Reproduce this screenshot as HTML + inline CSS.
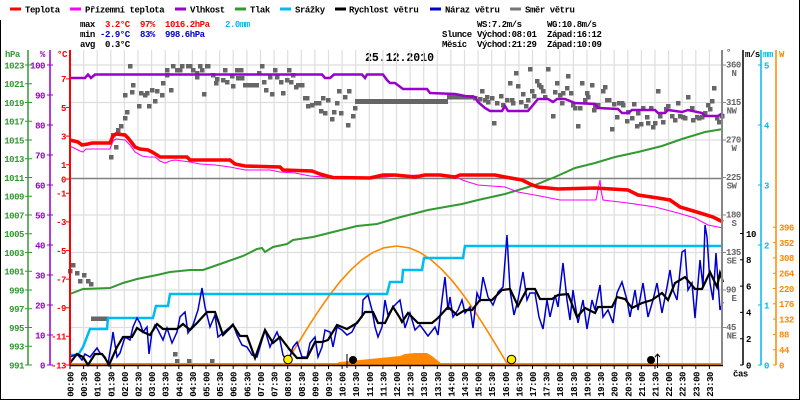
<!DOCTYPE html>
<html><head><meta charset="utf-8"><style>
html,body{margin:0;padding:0;background:#fff}
svg{display:block}
text{font-family:"Liberation Mono","DejaVu Sans Mono",monospace;font-size:9px;letter-spacing:-0.45px;font-weight:bold}
.t{font-size:11.5px;font-weight:bold;letter-spacing:0}
</style></head><body>
<svg width="800" height="400" viewBox="0 0 800 400" xmlns="http://www.w3.org/2000/svg">
<rect width="800" height="400" fill="#fff"/>
<path d="M0.5,20 V399.5 H799.5 V0" fill="none" stroke="#000" stroke-width="1"/>

<g stroke-width="3">
<line x1="10" y1="9" x2="21" y2="9" stroke="#ff0000"/>
<line x1="70" y1="9" x2="81" y2="9" stroke="#ff00ff"/>
<line x1="175" y1="9" x2="186" y2="9" stroke="#9900cc"/>
<line x1="235" y1="9" x2="246" y2="9" stroke="#339933"/>
<line x1="280" y1="9" x2="291" y2="9" stroke="#00bbee"/>
<line x1="335" y1="9" x2="346" y2="9" stroke="#000"/>
<line x1="430" y1="9" x2="441" y2="9" stroke="#0000cc"/>
<line x1="510" y1="9" x2="521" y2="9" stroke="#777"/>
</g>
<g fill="#000">
<text x="25" y="12.5">Teplota</text>
<text x="85" y="12.5">Přízemní teplota</text>
<text x="190" y="12.5">Vlhkost</text>
<text x="250" y="12.5">Tlak</text>
<text x="295" y="12.5">Srážky</text>
<text x="349" y="12.5">Rychlost větru</text>
<text x="445" y="12.5">Náraz větru</text>
<text x="525" y="12.5">Směr větru</text>
</g>

<text x="80" y="27">max</text>
<text x="105" y="27" fill="#ff0000">3.2°C</text>
<text x="140" y="27" fill="#ff0000">97%</text>
<text x="165" y="27" fill="#ff0000">1016.2hPa</text>
<text x="225" y="27" fill="#00bbee">2.0mm</text>
<text x="80" y="37">min</text>
<text x="100" y="37" fill="#0000cc">-2.9°C</text>
<text x="140" y="37" fill="#0000cc">83%</text>
<text x="165" y="37" fill="#0000cc">998.6hPa</text>
<text x="80" y="47">avg</text>
<text x="105" y="47">0.3°C</text>

<text x="477" y="27">WS:7.2m/s</text>
<text x="547" y="27">WG:10.8m/s</text>
<text x="442" y="37">Slunce</text>
<text x="477" y="37">Východ:08:01</text>
<text x="547" y="37">Západ:16:12</text>
<text x="442" y="47">Měsíc</text>
<text x="477" y="47">Východ:21:29</text>
<text x="547" y="47">Západ:10:09</text>

<text class="t" x="365" y="61">25.12.2010</text>

<g stroke="#dedede" stroke-width="1.2">
<line x1="83.6" y1="50" x2="83.6" y2="365"/><line x1="97.2" y1="50" x2="97.2" y2="365"/><line x1="110.8" y1="50" x2="110.8" y2="365"/><line x1="124.4" y1="50" x2="124.4" y2="365"/><line x1="138" y1="50" x2="138" y2="365"/><line x1="151.6" y1="50" x2="151.6" y2="365"/><line x1="165.2" y1="50" x2="165.2" y2="365"/><line x1="178.8" y1="50" x2="178.8" y2="365"/><line x1="192.4" y1="50" x2="192.4" y2="365"/><line x1="206" y1="50" x2="206" y2="365"/><line x1="219.6" y1="50" x2="219.6" y2="365"/><line x1="233.2" y1="50" x2="233.2" y2="365"/><line x1="246.9" y1="50" x2="246.9" y2="365"/><line x1="260.5" y1="50" x2="260.5" y2="365"/><line x1="274.1" y1="50" x2="274.1" y2="365"/><line x1="287.7" y1="50" x2="287.7" y2="365"/><line x1="301.3" y1="50" x2="301.3" y2="365"/><line x1="314.9" y1="50" x2="314.9" y2="365"/><line x1="328.5" y1="50" x2="328.5" y2="365"/><line x1="342.1" y1="50" x2="342.1" y2="365"/><line x1="355.7" y1="50" x2="355.7" y2="365"/><line x1="369.3" y1="50" x2="369.3" y2="365"/><line x1="382.9" y1="50" x2="382.9" y2="365"/><line x1="396.5" y1="50" x2="396.5" y2="365"/><line x1="410.1" y1="50" x2="410.1" y2="365"/><line x1="423.7" y1="50" x2="423.7" y2="365"/><line x1="437.3" y1="50" x2="437.3" y2="365"/><line x1="450.9" y1="50" x2="450.9" y2="365"/><line x1="464.5" y1="50" x2="464.5" y2="365"/><line x1="478.1" y1="50" x2="478.1" y2="365"/><line x1="491.7" y1="50" x2="491.7" y2="365"/><line x1="505.3" y1="50" x2="505.3" y2="365"/><line x1="518.9" y1="50" x2="518.9" y2="365"/><line x1="532.5" y1="50" x2="532.5" y2="365"/><line x1="546.1" y1="50" x2="546.1" y2="365"/><line x1="559.7" y1="50" x2="559.7" y2="365"/><line x1="573.4" y1="50" x2="573.4" y2="365"/><line x1="587" y1="50" x2="587" y2="365"/><line x1="600.6" y1="50" x2="600.6" y2="365"/><line x1="614.2" y1="50" x2="614.2" y2="365"/><line x1="627.8" y1="50" x2="627.8" y2="365"/><line x1="641.4" y1="50" x2="641.4" y2="365"/><line x1="655" y1="50" x2="655" y2="365"/><line x1="668.6" y1="50" x2="668.6" y2="365"/><line x1="682.2" y1="50" x2="682.2" y2="365"/><line x1="695.8" y1="50" x2="695.8" y2="365"/><line x1="709.4" y1="50" x2="709.4" y2="365"/>
<line x1="70" y1="65" x2="723" y2="65"/><line x1="70" y1="102.5" x2="723" y2="102.5"/><line x1="70" y1="140" x2="723" y2="140"/><line x1="70" y1="215" x2="723" y2="215"/><line x1="70" y1="252.5" x2="723" y2="252.5"/><line x1="70" y1="290" x2="723" y2="290"/><line x1="70" y1="327.5" x2="723" y2="327.5"/>
</g>
<line x1="70" y1="178.5" x2="723" y2="178.5" stroke="#808080" stroke-width="1.5"/>

<polygon fill="#ff8800" points="330,365 340,362 350,361 360,360 370,359 380,358 390,357 400,356 405,354 415,353 427,353 432,356 437,360 442,364 442,365"/>

<g fill="#666">
<rect x="68" y="269" width="4.5" height="4.5"/><rect x="71" y="263" width="4.5" height="4.5"/><rect x="75" y="271" width="4.5" height="4.5"/><rect x="78" y="279" width="4.5" height="4.5"/><rect x="82" y="273" width="4.5" height="4.5"/><rect x="86" y="279" width="4.5" height="4.5"/><rect x="89" y="282" width="4.5" height="4.5"/>
<rect x="91" y="316.5" width="18" height="4.5"/>
<rect x="109" y="155" width="4.5" height="4.5"/><rect x="114" y="145" width="4.5" height="4.5"/><rect x="111" y="133" width="4.5" height="4.5"/><rect x="116" y="128" width="4.5" height="4.5"/><rect x="119" y="124" width="4.5" height="4.5"/><rect x="123" y="116" width="4.5" height="4.5"/><rect x="125" y="110" width="4.5" height="4.5"/><rect x="123" y="93" width="4.5" height="4.5"/><rect x="130" y="90" width="4.5" height="4.5"/><rect x="131" y="83" width="4.5" height="4.5"/><rect x="128" y="64" width="4.5" height="4.5"/><rect x="137" y="104" width="4.5" height="4.5"/><rect x="139" y="91" width="4.5" height="4.5"/><rect x="143" y="93" width="4.5" height="4.5"/><rect x="145" y="91" width="4.5" height="4.5"/><rect x="147" y="104" width="4.5" height="4.5"/><rect x="150" y="88" width="4.5" height="4.5"/><rect x="153" y="99" width="4.5" height="4.5"/><rect x="155" y="89" width="4.5" height="4.5"/><rect x="160" y="93" width="4.5" height="4.5"/><rect x="161" y="81" width="4.5" height="4.5"/><rect x="165" y="68" width="4.5" height="4.5"/><rect x="165" y="73" width="4.5" height="4.5"/><rect x="169" y="88" width="4.5" height="4.5"/><rect x="171" y="64" width="4.5" height="4.5"/><rect x="175" y="68" width="4.5" height="4.5"/><rect x="178" y="68" width="4.5" height="4.5"/><rect x="180" y="64" width="4.5" height="4.5"/><rect x="186" y="64" width="4.5" height="4.5"/><rect x="188" y="64" width="4.5" height="4.5"/><rect x="191" y="68" width="4.5" height="4.5"/><rect x="195" y="71" width="4.5" height="4.5"/><rect x="195" y="75" width="4.5" height="4.5"/><rect x="198" y="64" width="4.5" height="4.5"/><rect x="200" y="68" width="4.5" height="4.5"/><rect x="202" y="92" width="4.5" height="4.5"/><rect x="205" y="64" width="4.5" height="4.5"/><rect x="206" y="64" width="4.5" height="4.5"/><rect x="211" y="73" width="4.5" height="4.5"/><rect x="214" y="81" width="4.5" height="4.5"/><rect x="215" y="77" width="4.5" height="4.5"/><rect x="221" y="78" width="4.5" height="4.5"/><rect x="223" y="68" width="4.5" height="4.5"/><rect x="225" y="80" width="4.5" height="4.5"/><rect x="230" y="74" width="4.5" height="4.5"/><rect x="231" y="84" width="4.5" height="4.5"/><rect x="235" y="68" width="4.5" height="4.5"/><rect x="236" y="76" width="4.5" height="4.5"/><rect x="239" y="68" width="4.5" height="4.5"/><rect x="240" y="76" width="4.5" height="4.5"/>
<rect x="243" y="83" width="16" height="4.5"/>
<rect x="257" y="71" width="4.5" height="4.5"/><rect x="260" y="64" width="4.5" height="4.5"/><rect x="262" y="80" width="4.5" height="4.5"/><rect x="264" y="88" width="4.5" height="4.5"/><rect x="268" y="75" width="4.5" height="4.5"/><rect x="270" y="92" width="4.5" height="4.5"/><rect x="273" y="68" width="4.5" height="4.5"/><rect x="275" y="75" width="4.5" height="4.5"/><rect x="279" y="80" width="4.5" height="4.5"/><rect x="281" y="91" width="4.5" height="4.5"/><rect x="285" y="78" width="4.5" height="4.5"/><rect x="287" y="68" width="4.5" height="4.5"/><rect x="289" y="80" width="4.5" height="4.5"/><rect x="291" y="73" width="4.5" height="4.5"/><rect x="294" y="85" width="4.5" height="4.5"/><rect x="296" y="83" width="4.5" height="4.5"/><rect x="300" y="83" width="4.5" height="4.5"/><rect x="303" y="96" width="4.5" height="4.5"/><rect x="305" y="96" width="4.5" height="4.5"/><rect x="306" y="104" width="4.5" height="4.5"/><rect x="310" y="103" width="4.5" height="4.5"/><rect x="314" y="101" width="4.5" height="4.5"/><rect x="317" y="101" width="4.5" height="4.5"/><rect x="319" y="109" width="4.5" height="4.5"/><rect x="321" y="96" width="4.5" height="4.5"/><rect x="323" y="111" width="4.5" height="4.5"/><rect x="326" y="98" width="4.5" height="4.5"/><rect x="330" y="117" width="4.5" height="4.5"/><rect x="332" y="110" width="4.5" height="4.5"/><rect x="335" y="101" width="4.5" height="4.5"/><rect x="337" y="89" width="4.5" height="4.5"/><rect x="339" y="111" width="4.5" height="4.5"/><rect x="343" y="95" width="4.5" height="4.5"/><rect x="346" y="123" width="4.5" height="4.5"/><rect x="347" y="89" width="4.5" height="4.5"/><rect x="351" y="114" width="4.5" height="4.5"/><rect x="353" y="106" width="4.5" height="4.5"/>
<rect x="355" y="99" width="93" height="5"/>
<rect x="447" y="95" width="27" height="4.5"/>
<rect x="473" y="96" width="4.5" height="4.5"/><rect x="480" y="89" width="4.5" height="4.5"/><rect x="478" y="97" width="4.5" height="4.5"/><rect x="483" y="98" width="4.5" height="4.5"/><rect x="485" y="95" width="4.5" height="4.5"/><rect x="486" y="100" width="4.5" height="4.5"/><rect x="490" y="96" width="4.5" height="4.5"/><rect x="492" y="121" width="4.5" height="4.5"/><rect x="495" y="101" width="4.5" height="4.5"/><rect x="499" y="94" width="4.5" height="4.5"/><rect x="501" y="103" width="4.5" height="4.5"/><rect x="505" y="98" width="4.5" height="4.5"/><rect x="508" y="81" width="4.5" height="4.5"/><rect x="510" y="98" width="4.5" height="4.5"/><rect x="511" y="101" width="4.5" height="4.5"/><rect x="514" y="71" width="4.5" height="4.5"/><rect x="516" y="84" width="4.5" height="4.5"/><rect x="519" y="100" width="4.5" height="4.5"/><rect x="521" y="92" width="4.5" height="4.5"/><rect x="524" y="104" width="4.5" height="4.5"/><rect x="526" y="98" width="4.5" height="4.5"/><rect x="528" y="67" width="4.5" height="4.5"/><rect x="530" y="89" width="4.5" height="4.5"/><rect x="532" y="94" width="4.5" height="4.5"/><rect x="535" y="79" width="4.5" height="4.5"/><rect x="537" y="83" width="4.5" height="4.5"/><rect x="539" y="85" width="4.5" height="4.5"/><rect x="541" y="89" width="4.5" height="4.5"/><rect x="543" y="95" width="4.5" height="4.5"/><rect x="546" y="67" width="4.5" height="4.5"/><rect x="551" y="114" width="4.5" height="4.5"/><rect x="553" y="90" width="4.5" height="4.5"/><rect x="555" y="81" width="4.5" height="4.5"/><rect x="558" y="93" width="4.5" height="4.5"/><rect x="560" y="101" width="4.5" height="4.5"/><rect x="561" y="91" width="4.5" height="4.5"/><rect x="565" y="86" width="4.5" height="4.5"/><rect x="566" y="74" width="4.5" height="4.5"/><rect x="569" y="91" width="4.5" height="4.5"/><rect x="571" y="103" width="4.5" height="4.5"/><rect x="573" y="106" width="4.5" height="4.5"/><rect x="576" y="124" width="4.5" height="4.5"/><rect x="578" y="106" width="4.5" height="4.5"/><rect x="580" y="81" width="4.5" height="4.5"/><rect x="583" y="98" width="4.5" height="4.5"/><rect x="585" y="91" width="4.5" height="4.5"/><rect x="586" y="95" width="4.5" height="4.5"/><rect x="590" y="83" width="4.5" height="4.5"/><rect x="592" y="108" width="4.5" height="4.5"/><rect x="593" y="105" width="4.5" height="4.5"/><rect x="596" y="103" width="4.5" height="4.5"/><rect x="601" y="89" width="4.5" height="4.5"/><rect x="603" y="85" width="4.5" height="4.5"/><rect x="605" y="98" width="4.5" height="4.5"/><rect x="607" y="98" width="4.5" height="4.5"/><rect x="610" y="127" width="4.5" height="4.5"/><rect x="612" y="102" width="4.5" height="4.5"/><rect x="615" y="115" width="4.5" height="4.5"/><rect x="617" y="101" width="4.5" height="4.5"/><rect x="620" y="101" width="4.5" height="4.5"/><rect x="621" y="103" width="4.5" height="4.5"/><rect x="625" y="119" width="4.5" height="4.5"/><rect x="626" y="110" width="4.5" height="4.5"/><rect x="630" y="116" width="4.5" height="4.5"/><rect x="632" y="102" width="4.5" height="4.5"/><rect x="635" y="124" width="4.5" height="4.5"/><rect x="636" y="111" width="4.5" height="4.5"/><rect x="639" y="122" width="4.5" height="4.5"/><rect x="641" y="106" width="4.5" height="4.5"/><rect x="645" y="115" width="4.5" height="4.5"/><rect x="646" y="121" width="4.5" height="4.5"/><rect x="649" y="106" width="4.5" height="4.5"/><rect x="651" y="125" width="4.5" height="4.5"/><rect x="653" y="121" width="4.5" height="4.5"/><rect x="656" y="89" width="4.5" height="4.5"/><rect x="658" y="114" width="4.5" height="4.5"/><rect x="661" y="120" width="4.5" height="4.5"/><rect x="664" y="107" width="4.5" height="4.5"/><rect x="666" y="104" width="4.5" height="4.5"/><rect x="670" y="114" width="4.5" height="4.5"/><rect x="673" y="118" width="4.5" height="4.5"/><rect x="676" y="101" width="4.5" height="4.5"/><rect x="678" y="114" width="4.5" height="4.5"/><rect x="681" y="115" width="4.5" height="4.5"/><rect x="683" y="116" width="4.5" height="4.5"/><rect x="686" y="95" width="4.5" height="4.5"/><rect x="690" y="106" width="4.5" height="4.5"/><rect x="691" y="118" width="4.5" height="4.5"/><rect x="695" y="115" width="4.5" height="4.5"/><rect x="697" y="116" width="4.5" height="4.5"/><rect x="700" y="115" width="4.5" height="4.5"/><rect x="703" y="111" width="4.5" height="4.5"/><rect x="706" y="103" width="4.5" height="4.5"/><rect x="708" y="107" width="4.5" height="4.5"/><rect x="710" y="99" width="4.5" height="4.5"/><rect x="712" y="86" width="4.5" height="4.5"/><rect x="715" y="116" width="4.5" height="4.5"/><rect x="717" y="120" width="4.5" height="4.5"/><rect x="720" y="114" width="4.5" height="4.5"/>
<rect x="173" y="352" width="4.5" height="4.5"/><rect x="175" y="359" width="4.5" height="4.5"/><rect x="187" y="359" width="4.5" height="4.5"/><rect x="210" y="359" width="4.5" height="4.5"/>
</g>

<polyline fill="none" stroke="#ff8800" stroke-width="1.6" points="285,365 296,346.7 307,328.7 318,311.7 329,295.9 340,281.7 351,269.7 362,259.8 373,252.4 384,247.8 396.5,246 409,247.8 420,252.4 431,259.8 442,269.7 453,281.7 464,295.9 475,311.7 486,328.7 497,346.7 508,365"/>
<line x1="70" y1="364" x2="723" y2="364" stroke="#ff8800" stroke-width="2"/>

<polyline fill="none" stroke="#339933" stroke-width="2" points="70,294 83,289 110,288 123,283 137,279 157,275 170,272 190,270 203,270 223,263 243,256 257,249 262,248 265,252 273,247 287,244 293,240 313,237 337,231 357,226 377,224 397,218 428,210 462,204 478,200 505,194 535,185 555,177 575,168 595,163 615,157 638,152 662,146 682,139 705,132 723,129"/>

<polyline fill="none" stroke="#00bbee" stroke-width="2.5" points="70,355 78,355 83,347 90,329 107,329 108,318 153,318 156,306 168,306 170,294 387,294 390,282 402,282 403,270 422,270 424,258 463,258 465,246 723,246"/>

<polyline fill="none" stroke="#9900cc" stroke-width="2.5" points="70,78 85,78 88,74.5 91,78 95,74.5 322,74.5 325,78 330,78 334,74.5 362,74.5 365,78 367,74.5 383,74.5 387,80 390,83 395,83 403,89 427,89 430,93 455,94 465,96 475,97 478,102 485,108 490,111 502,111 505,106 508,111 528,111 538,99 548,99 553,102 557,99 565,99 575,103 595,104 598,108 618,109 622,113 628,113 632,110 655,110 658,113 665,113 668,110 682,112 688,110 702,113 705,116 718,116 723,113"/>

<polyline fill="none" stroke="#0000cc" stroke-width="1.5" points="70,357 77,354 82,360 85,354 90,357 97,348 100,353 105,357 108,364 112,340 113,332 117,357 120,353 125,337 130,340 133,327 137,318 140,323 143,332 147,327 149,354 152,332 155,325 158,330 163,340 167,328 172,343 177,332 180,317 185,312 188,333 193,325 198,310 202,288 205,307 210,327 215,315 218,337 223,333 230,327 233,324 237,335 242,345 247,347 252,355 257,357 262,340 265,330 270,347 273,340 277,332 280,340 283,355 288,362 293,347 297,342 302,357 307,357 310,343 315,337 318,357 322,347 325,330 330,332 333,347 337,327 342,330 347,335 352,332 357,322 362,317 363,300 368,295 372,310 375,327 378,337 382,327 385,300 388,315 393,307 400,300 405,328 410,313 415,330 420,325 428,336 435,327 438,335 442,300 445,277 448,310 450,297 453,317 458,310 462,300 465,313 470,307 473,328 477,293 480,300 483,277 488,297 493,305 498,292 503,287 507,235 510,290 514,315 518,300 523,272 527,300 530,293 535,293 539,317 543,329 547,300 550,317 555,295 558,307 563,263 567,300 570,320 573,290 578,323 583,300 587,329 592,300 595,310 600,285 603,317 608,310 613,323 617,293 622,282 627,300 630,317 635,290 638,310 643,283 648,317 653,300 657,283 662,313 667,287 670,270 673,290 677,300 682,252 685,250 688,290 692,283 695,318 700,260 703,287 705,225 707,237 710,283 713,300 716,253 720,310 723,302"/>

<polyline fill="none" stroke="#000" stroke-width="2.2" points="70,363 77,354 83,357 88,365 95,354 102,354 105,358 109,365 117,347 123,337 132,337 137,328 143,332 150,335 157,324 163,329 177,329 183,324 190,330 197,323 207,312 215,312 223,335 233,325 240,336 247,336 255,358 265,330 273,343 280,337 290,350 297,358 307,358 315,342 322,342 328,340 337,325 347,329 357,323 365,312 373,312 378,323 385,323 393,307 400,318 402,322 408,313 418,323 432,323 438,318 448,307 457,315 465,310 472,310 480,300 492,300 502,290 510,289 518,306 527,289 535,289 540,299 552,299 558,295 568,294 577,317 585,308 595,313 598,307 612,307 617,297 625,299 632,308 642,303 652,300 662,293 668,300 675,283 685,277 695,289 702,289 710,272 717,287 720,273 723,282"/>

<polyline fill="none" stroke="#ff00ff" stroke-width="1.1" points="70,146 80,151 83,152 86,149 110,149 113,141 116,139 125,140 130,145 135,152 142,156 148,157 155,157 160,161 165,163 170,161 175,160 190,162 200,164 215,165 230,167 240,169 245,170 270,170 280,172 295,173 310,176 330,177.5 370,178 385,177 395,176 420,175 440,176 455,177 465,181 478,185 505,187 518,192 540,196 555,199 560,200 596,200 598,190 600,180 601,190 603,200 628,203 655,207 678,213 695,218 708,225 723,228"/>

<polyline fill="none" stroke="#ff0000" stroke-width="3.6" points="70,140 78,142 82,145 88,144 92,143 110,143 113,136 116,134 125,135 128,138 132,143 135,147 140,149 148,150 152,152 157,155 160,157 187,157 190,160 230,160 235,164 245,166 280,167 283,170 312,171 320,174 327,176 333,177.5 370,178 383,175 395,175 415,177 425,175 440,175 455,177 460,175 495,175 505,177 522,180 530,184 538,187 558,189 595,188 628,190 638,195 658,198 670,200 680,207 700,213 713,217 723,222"/>

<line x1="347" y1="354" x2="347" y2="368" stroke="#000" stroke-width="1"/>
<circle cx="353" cy="360" r="4" fill="#000"/>
<line x1="657.5" y1="354" x2="657.5" y2="368" stroke="#000" stroke-width="1"/>
<path d="M655,357 L657.5,354 L660,357" fill="none" stroke="#000" stroke-width="1"/>
<circle cx="651" cy="360" r="4" fill="#000"/>
<circle cx="288" cy="359.5" r="4.3" fill="#ffee00" stroke="#000" stroke-width="1"/>
<circle cx="511.5" cy="359.5" r="4.3" fill="#ffee00" stroke="#000" stroke-width="1"/>

<line x1="28" y1="50" x2="28" y2="365" stroke="#339933" stroke-width="1.5"/>
<line x1="50" y1="50" x2="50" y2="365" stroke="#9900cc" stroke-width="1.5"/>
<line x1="70" y1="50" x2="70" y2="365" stroke="#ff0000" stroke-width="2"/>
<line x1="70" y1="365.5" x2="723" y2="365.5" stroke="#000" stroke-width="1.5"/>
<line x1="722" y1="50" x2="722" y2="365" stroke="#888" stroke-width="2"/>
<line x1="743" y1="50" x2="743" y2="365" stroke="#000" stroke-width="1.5"/>
<line x1="761" y1="50" x2="761" y2="365" stroke="#00bbee" stroke-width="1.5"/>
<line x1="776" y1="50" x2="776" y2="365" stroke="#ff8800" stroke-width="1.5"/>

<text x="5" y="57" fill="#339933">hPa</text>
<text x="40" y="57" fill="#9900cc">%</text>
<text x="57" y="57" fill="#ff0000">°C</text>
<text x="726" y="55" fill="#666">°</text>
<text x="745" y="57" fill="#000">m/s</text>
<text x="763" y="57" fill="#00bbee">mm</text>
<text x="779" y="57" fill="#ff8800">W</text>

<g stroke="#339933" stroke-width="1">
<path d="M25,65H32M25,83.75H32M25,102.5H32M25,121.25H32M25,140H32M25,158.75H32M25,177.5H32M25,196.25H32M25,215H32M25,233.75H32M25,252.5H32M25,271.25H32M25,290H32M25,308.75H32M25,327.5H32M25,346.25H32M25,365H32"/>
</g>
<g fill="#339933" text-anchor="end">
<text x="24" y="68.3">1023</text><text x="24" y="87">1021</text><text x="24" y="105.8">1019</text><text x="24" y="124.5">1017</text><text x="24" y="143.3">1015</text><text x="24" y="162">1013</text><text x="24" y="180.8">1011</text><text x="24" y="199.5">1009</text><text x="24" y="218.3">1007</text><text x="24" y="237">1005</text><text x="24" y="255.8">1003</text><text x="24" y="274.5">1001</text><text x="24" y="293.3">999</text><text x="24" y="312">997</text><text x="24" y="330.8">995</text><text x="24" y="349.5">993</text><text x="24" y="368.3">991</text>
</g>
<g stroke="#9900cc" stroke-width="1"><path d="M47,65H53M47,95H53M47,125H53M47,155H53M47,185H53M47,215H53M47,245H53M47,275H53M47,305H53M47,335H53M47,365H53"/></g>
<g fill="#9900cc" text-anchor="end">
<text x="45" y="68.3">100</text><text x="45" y="98.3">90</text><text x="45" y="128.3">80</text><text x="45" y="158.3">70</text><text x="45" y="188.3">60</text><text x="45" y="218.3">50</text><text x="45" y="248.3">40</text><text x="45" y="278.3">30</text><text x="45" y="308.3">20</text><text x="45" y="338.3">10</text><text x="45" y="368.3">0</text>
</g>
<g stroke="#ff0000" stroke-width="1"><path d="M66,78.9H70M66,107.5H70M66,136.1H70M66,164.7H70M66,179H70M66,193.3H70M66,221.9H70M66,250.5H70M66,279.1H70M66,307.7H70M66,336.3H70M66,365H70"/></g>
<g fill="#ff0000" text-anchor="end">
<text x="66" y="82.2">7</text><text x="66" y="110.8">5</text><text x="66" y="139.4">3</text><text x="66" y="168">1</text><text x="66" y="182.3">0</text><text x="66" y="196.6">-1</text><text x="66" y="225.2">-3</text><text x="66" y="253.8">-5</text><text x="66" y="282.4">-7</text><text x="66" y="311">-9</text><text x="66" y="339.6">-11</text><text x="66" y="368.3">-13</text>
</g>

<g stroke="#888" stroke-width="1"><path d="M722,65H726M722,102.5H726M722,140H726M722,177.5H726M722,215H726M722,252.5H726M722,290H726M722,327.5H726"/></g>
<g fill="#666">
<text x="726" y="67.5">360</text><text x="726" y="105">315</text><text x="726" y="142.5">270</text><text x="726" y="180">225</text><text x="726" y="217.5">180</text><text x="726" y="255">135</text><text x="726" y="292.5">90</text><text x="726" y="330">45</text>
</g>
<g fill="#666" text-anchor="end">
<text x="736.5" y="76">N</text><text x="736.5" y="113.5">NW</text><text x="736.5" y="151">W</text><text x="736.5" y="188.5">SW</text><text x="736.5" y="226">S</text><text x="736.5" y="263.5">SE</text><text x="736.5" y="301">E</text><text x="736.5" y="338.5">NE</text>
</g>
<g stroke="#000" stroke-width="1"><path d="M740,233.5H743M740,259.8H743M740,286.1H743M740,312.4H743M740,338.7H743M740,365H743"/></g>
<g fill="#000">
<text x="746" y="236.8">10</text><text x="746" y="263.1">8</text><text x="746" y="289.4">6</text><text x="746" y="315.7">4</text><text x="746" y="342">2</text><text x="746" y="368.3">0</text>
</g>
<g stroke="#00bbee" stroke-width="1"><path d="M758,65H761M758,125H761M758,185H761M758,245H761M758,305H761M758,365H761"/></g>
<g fill="#00bbee">
<text x="764" y="68.3">5</text><text x="764" y="128.3">4</text><text x="764" y="188.3">3</text><text x="764" y="248.3">2</text><text x="764" y="308.3">1</text><text x="764" y="368.3">0</text>
</g>
<g stroke="#ff8800" stroke-width="1"><path d="M773,227.3H776M773,242.6H776M773,257.9H776M773,273.2H776M773,288.5H776M773,303.8H776M773,319.1H776M773,334.4H776M773,349.7H776M773,365H776"/></g>
<g fill="#ff8800">
<text x="779" y="230.6">396</text><text x="779" y="245.9">352</text><text x="779" y="261.2">308</text><text x="779" y="276.5">264</text><text x="779" y="291.8">220</text><text x="779" y="307.1">176</text><text x="779" y="322.4">132</text><text x="779" y="337.7">88</text><text x="779" y="353">44</text><text x="779" y="368.3">0</text>
</g>

<text x="733" y="376.5">čas</text>

<g stroke="#000" stroke-width="1">
<path d="M70,365V369M83.6,365V369M97.2,365V369M110.8,365V369M124.4,365V369M138,365V369M151.6,365V369M165.2,365V369M178.8,365V369M192.4,365V369M206,365V369M219.6,365V369M233.2,365V369M246.9,365V369M260.5,365V369M274.1,365V369M287.7,365V369M301.3,365V369M314.9,365V369M328.5,365V369M342.1,365V369M355.7,365V369M369.3,365V369M382.9,365V369M396.5,365V369M410.1,365V369M423.7,365V369M437.3,365V369M450.9,365V369M464.5,365V369M478.1,365V369M491.7,365V369M505.3,365V369M518.9,365V369M532.5,365V369M546.1,365V369M559.7,365V369M573.4,365V369M587,365V369M600.6,365V369M614.2,365V369M627.8,365V369M641.4,365V369M655,365V369M668.6,365V369M682.2,365V369M695.8,365V369M709.4,365V369"/>
</g>

<g fill="#000" text-anchor="end">
<text transform="translate(73.5,372) rotate(-90)">00:00</text>
<text transform="translate(87.1,372) rotate(-90)">00:30</text>
<text transform="translate(100.7,372) rotate(-90)">01:00</text>
<text transform="translate(114.3,372) rotate(-90)">01:30</text>
<text transform="translate(127.9,372) rotate(-90)">02:00</text>
<text transform="translate(141.5,372) rotate(-90)">02:30</text>
<text transform="translate(155.1,372) rotate(-90)">03:00</text>
<text transform="translate(168.7,372) rotate(-90)">03:30</text>
<text transform="translate(182.3,372) rotate(-90)">04:00</text>
<text transform="translate(195.9,372) rotate(-90)">04:30</text>
<text transform="translate(209.5,372) rotate(-90)">05:00</text>
<text transform="translate(223.1,372) rotate(-90)">05:30</text>
<text transform="translate(236.7,372) rotate(-90)">06:00</text>
<text transform="translate(250.4,372) rotate(-90)">06:30</text>
<text transform="translate(264,372) rotate(-90)">07:00</text>
<text transform="translate(277.6,372) rotate(-90)">07:30</text>
<text transform="translate(291.2,372) rotate(-90)">08:00</text>
<text transform="translate(304.8,372) rotate(-90)">08:30</text>
<text transform="translate(318.4,372) rotate(-90)">09:00</text>
<text transform="translate(332,372) rotate(-90)">09:30</text>
<text transform="translate(345.6,372) rotate(-90)">10:00</text>
<text transform="translate(359.2,372) rotate(-90)">10:30</text>
<text transform="translate(372.8,372) rotate(-90)">11:00</text>
<text transform="translate(386.4,372) rotate(-90)">11:30</text>
<text transform="translate(400,372) rotate(-90)">12:00</text>
<text transform="translate(413.6,372) rotate(-90)">12:30</text>
<text transform="translate(427.2,372) rotate(-90)">13:00</text>
<text transform="translate(440.8,372) rotate(-90)">13:30</text>
<text transform="translate(454.4,372) rotate(-90)">14:00</text>
<text transform="translate(468,372) rotate(-90)">14:30</text>
<text transform="translate(481.6,372) rotate(-90)">15:00</text>
<text transform="translate(495.2,372) rotate(-90)">15:30</text>
<text transform="translate(508.8,372) rotate(-90)">16:00</text>
<text transform="translate(522.4,372) rotate(-90)">16:30</text>
<text transform="translate(536,372) rotate(-90)">17:00</text>
<text transform="translate(549.6,372) rotate(-90)">17:30</text>
<text transform="translate(563.2,372) rotate(-90)">18:00</text>
<text transform="translate(576.9,372) rotate(-90)">18:30</text>
<text transform="translate(590.5,372) rotate(-90)">19:00</text>
<text transform="translate(604.1,372) rotate(-90)">19:30</text>
<text transform="translate(617.7,372) rotate(-90)">20:00</text>
<text transform="translate(631.3,372) rotate(-90)">20:30</text>
<text transform="translate(644.9,372) rotate(-90)">21:00</text>
<text transform="translate(658.5,372) rotate(-90)">21:30</text>
<text transform="translate(672.1,372) rotate(-90)">22:00</text>
<text transform="translate(685.7,372) rotate(-90)">22:30</text>
<text transform="translate(699.3,372) rotate(-90)">23:00</text>
<text transform="translate(712.9,372) rotate(-90)">23:30</text>
</g>
</svg>
</body></html>
